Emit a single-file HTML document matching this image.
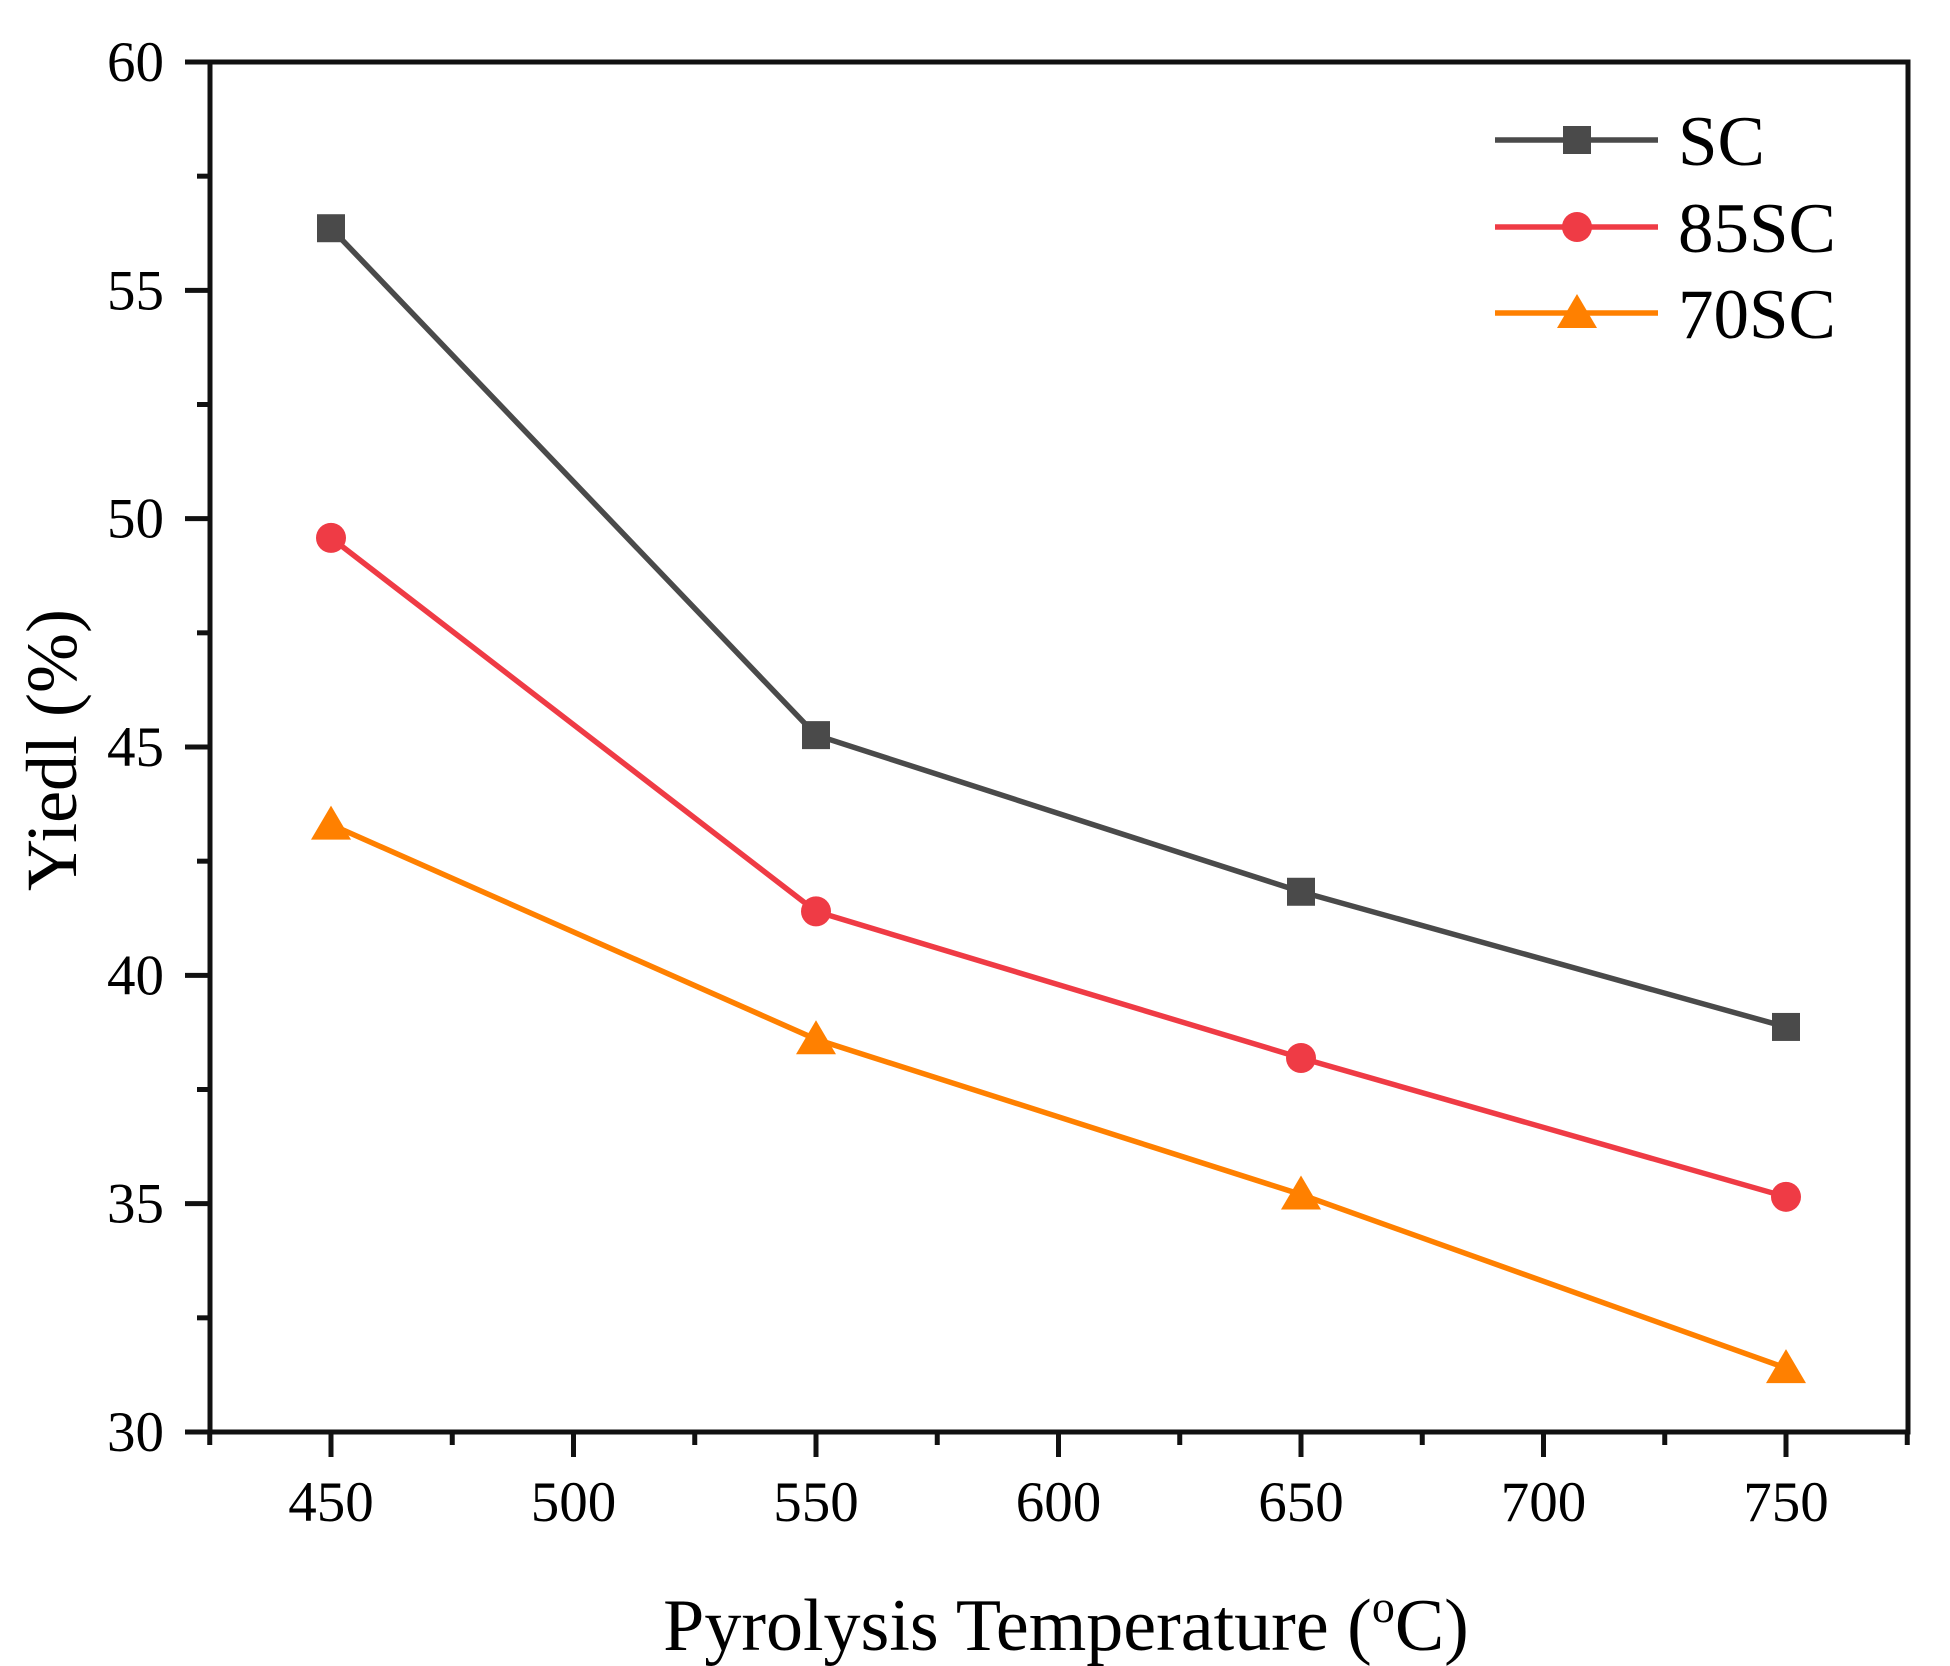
<!DOCTYPE html>
<html><head><meta charset="utf-8"><style>
html,body{margin:0;padding:0;background:#fff;}
svg{display:block;font-family:"Liberation Serif",serif;}
</style></head><body>
<svg id="chart" width="1950" height="1666" viewBox="0 0 1950 1666">
<g id="axes"></g><g id="series"></g><g id="legend"></g>
<text x="1066" y="1650" font-size="74" text-anchor="middle">Pyrolysis Temperature (<tspan font-size="46" dy="-28">o</tspan><tspan dy="28">C)</tspan></text>
<text transform="translate(76,750) rotate(-90)" font-size="72" text-anchor="middle">Yiedl (%)</text>
</svg>
<script>
const categories=[450,550,650,750];
const scValues=[56.36,45.26,41.83,38.87];
const sc85Values=[49.58,41.4,38.19,35.15];
const sc70Values=[43.3,38.6,35.2,31.4];
const xTicks=[450,500,550,600,650,700,750];
const yTicks=[30,35,40,45,50,55,60];
const seriesNames=["SC","85SC","70SC"];

const NS="http://www.w3.org/2000/svg";
const L=210,R=1908,T=62,B=1432;
const x=v=>331+(v-450)*(1786-331)/300;
const y=v=>B-(v-30)*(B-T)/30;
function mk(tag,attrs,parent){const e=document.createElementNS(NS,tag);for(const k in attrs)e.setAttribute(k,attrs[k]);parent.appendChild(e);return e;}
const axes=document.getElementById('axes');
const frame=mk('rect',{x:L,y:T,width:R-L,height:B-T,fill:'none',stroke:'#111','stroke-width':5},axes);


xTicks.forEach(t=>{
  const ln=mk('line',{x1:x(t),x2:x(t),y1:B,y2:B+25,stroke:'#111','stroke-width':5},axes);
  
  
  const m=mk('line',{x1:x(t+25),x2:x(t+25),y1:B,y2:B+13,stroke:'#111','stroke-width':5},axes);
  
  
  const tx=mk('text',{x:x(t),y:1521,'font-size':57,'text-anchor':'middle'},axes);
  tx.textContent=t;
  
  
});
const m0=mk('line',{x1:x(425),x2:x(425),y1:B,y2:B+13,stroke:'#111','stroke-width':5},axes);


yTicks.forEach(t=>{
  const ln=mk('line',{x1:L-25,x2:L,y1:y(t),y2:y(t),stroke:'#111','stroke-width':5},axes);
  
  
  if(t<60){const m=mk('line',{x1:L-13,x2:L,y1:y(t+2.5),y2:y(t+2.5),stroke:'#111','stroke-width':5},axes);
  
  }
  const tx=mk('text',{x:164,y:y(t)+19,'font-size':57,'text-anchor':'end'},axes);
  tx.textContent=t;
  
  
});
const colors=["#4a4a4a","#ef3b45","#ff8000"];
const shapes=["square","circle","triangle"];
const allVals=[scValues,sc85Values,sc70Values];
const sg=document.getElementById('series');
function marker(shape,cx,cy,col,parent){
  let e;
  if(shape==="square")e=mk('rect',{x:cx-14,y:cy-14,width:28,height:28,fill:col},parent);
  else if(shape==="circle")e=mk('circle',{cx:cx,cy:cy,r:15,fill:col},parent);
  else e=mk('polygon',{points:`${cx},${cy-19} ${cx+20},${cy+15} ${cx-20},${cy+15}`,fill:col},parent);
  return e;
}
allVals.forEach((vals,i)=>{
  const g=mk('g',{},sg);
  
  
  const pl=mk('polyline',{points:vals.map((v,j)=>x(categories[j])+','+y(v)).join(' '),fill:'none',stroke:colors[i],'stroke-width':5.5},g);
  
  
  vals.forEach((v,j)=>{
    const e=marker(shapes[i],x(categories[j]),y(v),colors[i],g);
    
    
  });
});
const lg=document.getElementById('legend');


[140,227,313].forEach((ly,i)=>{
  const g=mk('g',{},lg);
  
  
  mk('line',{x1:1495,x2:1658,y1:ly,y2:ly,stroke:colors[i],'stroke-width':5.5},g);
  marker(shapes[i],1577,ly,colors[i],g);
  const t=mk('text',{x:1678,y:ly+25,'font-size':71},g);
  t.textContent=seriesNames[i];
});
</script>
</body></html>
